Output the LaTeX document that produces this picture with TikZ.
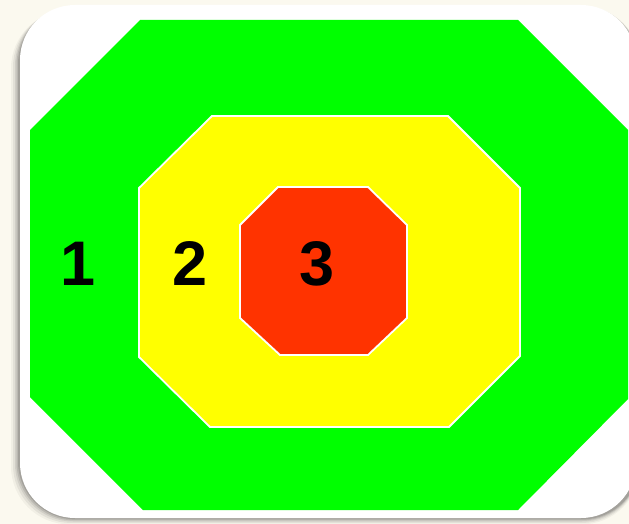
\documentclass[tikz,border=0pt]{standalone}
\usepackage{fontspec}
\setmainfont{Liberation Sans}
\definecolor{bgcream}{HTML}{FBF9EF}
\definecolor{ringgreen}{HTML}{00FF00}
\definecolor{ringyellow}{HTML}{FFFF00}
\definecolor{ringred}{HTML}{FF3300}
\tikzset{
  ring/.style={draw=white, line width=1.8pt, line join=miter},
  numlabel/.style={font=\fontsize{63}{63}\selectfont\bfseries, text=black, inner sep=0pt, anchor=center}
}
\begin{document}
\begin{tikzpicture}[x=1pt,y=-1pt]
\useasboundingbox (0,0) rectangle (629,524);
\fill[bgcream] (0,0) rectangle (629,524);
% soft shadow
\foreach \d/\o in {9/0.04,7/0.06,5/0.08,3.5/0.10,2/0.12}{
  \fill[black,opacity=\o,rounded corners=58pt] (20-\d,5+0.6*\d) rectangle (640,518+\d*0.7);
}
% white card
\fill[white,rounded corners=55pt] (20,5) rectangle (636,518);
% green octagon
\fill[ringgreen] (140,20) -- (518,20) -- (628,130) -- (628,399) -- (518,510) -- (143,510) -- (30,397) -- (30,130) -- cycle;
% yellow octagon
\filldraw[ring, fill=ringyellow] (212,116) -- (448,116) -- (520,188) -- (520,356) -- (449,427) -- (210,427) -- (139,357) -- (139,188) -- cycle;
% red octagon
\filldraw[ring, fill=ringred] (278,187) -- (368,187) -- (407,225) -- (407,318) -- (368,355) -- (280,355) -- (240,318) -- (240,225) -- cycle;
\node[numlabel] (one) at (78,264) {1};
\node[numlabel] (two) at (190,264) {2};
\node[numlabel] (three) at (317,264) {3};
\end{tikzpicture}
\end{document}
